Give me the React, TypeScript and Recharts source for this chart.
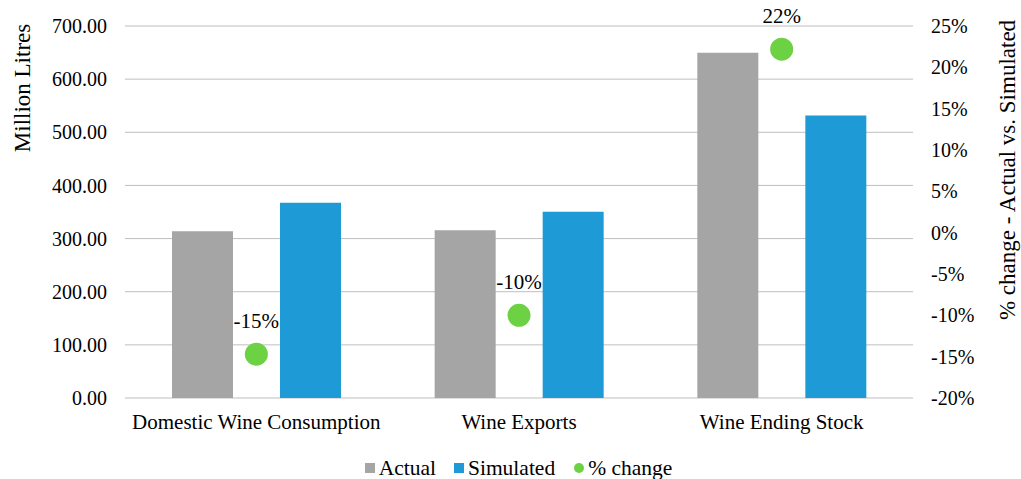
import React from "react";
import {
  ComposedChart,
  Bar,
  Scatter,
  XAxis,
  YAxis,
  CartesianGrid,
  Legend,
  Label,
} from "recharts";

const categories = ["Domestic Wine Consumption", "Wine Exports", "Wine Ending Stock"];
const actual = [313.6, 315.5, 649.6];
const simulated = [367.5, 350.6, 531.5];
const pctChange = [-0.147, -0.1, 0.222];

const leftTicks = [0, 100, 200, 300, 400, 500, 600, 700];
const rightTicks = [-0.2, -0.15, -0.1, -0.05, 0, 0.05, 0.1, 0.15, 0.2, 0.25];

const data = categories.map((name, i) => ({
  name,
  actual: actual[i],
  simulated: simulated[i],
  pct: pctChange[i],
}));

const FONT = '"Liberation Serif", "Times New Roman", serif';
const GRAY = "#A5A5A5";
const BLUE = "#1E9BD7";
const GREEN = "#6DD243";

const pctFmt = (v: number) => `${Math.round(v * 100)}%`;

const LeftTitle = (props: any) => {
  const vb = props.viewBox;
  const cx = vb.x + 22;
  const cy = vb.y + 62;
  return (
    <text x={cx} y={cy} transform={`rotate(-90, ${cx}, ${cy})`} textAnchor="middle"
      dominantBaseline="central" fontFamily={FONT} fontSize={23} fill="#000">
      Million Litres
    </text>
  );
};

const RightTitle = (props: any) => {
  const vb = props.viewBox;
  const cx = vb.x + 94;
  const cy = vb.y + 144;
  return (
    <text x={cx} y={cy} transform={`rotate(-90, ${cx}, ${cy})`} textAnchor="middle"
      dominantBaseline="central" fontFamily={FONT} fontSize={23} fill="#000">
      % change - Actual vs. Simulated
    </text>
  );
};

// green dot with its percentage written above it
const PctDot = (props: any) => {
  const { cx, cy, payload } = props;
  return (
    <g>
      <circle cx={cx} cy={cy} r={11.5} fill={GREEN} />
      <text x={cx} y={cy - 26} textAnchor="middle" fontFamily={FONT} fontSize={21} fill="#000">
        {pctFmt(payload.pct)}
      </text>
    </g>
  );
};

const LegendBox = () => {
  const item = (label: string, color: string, round: boolean, gap: number) => (
    <div style={{ display: "flex", alignItems: "center", marginRight: gap }}>
      <span style={{
        display: "inline-block", width: 10, height: 10, background: color,
        borderRadius: round ? "50%" : 0, marginRight: 4,
      }} />
      <span>{label}</span>
    </div>
  );
  return (
    <div style={{
      height: 36, paddingTop: 13, paddingLeft: 16, boxSizing: "border-box", display: "flex",
      justifyContent: "center", fontFamily: FONT, fontSize: 21.5, color: "#000", lineHeight: "20px",
    }}>
      {item("Actual", GRAY, false, 18)}
      {item("Simulated", BLUE, false, 19)}
      {item("% change", GREEN, true, 0)}
    </div>
  );
};

export default function App() {
  return (
    <div style={{ position: "absolute", left: 0, top: 0 }}>
      <ComposedChart width={1021} height={479} data={data}
        margin={{ top: 26, right: 0, bottom: 0, left: 0 }}
        barSize={61} barGap={47}>
        <CartesianGrid yAxisId="left" vertical={false} stroke="#BFBFBF" strokeWidth={1} />
        <XAxis dataKey="name" height={45} axisLine={false} tickLine={false} tickMargin={10}
          tick={{ fontFamily: FONT, fontSize: 21, fill: "#000" }} interval={0} />
        <YAxis yAxisId="left" orientation="left" width={125} domain={[0, 700]} ticks={leftTicks}
          axisLine={false} tickLine={false} tickMargin={12}
          tickFormatter={(v: number) => v.toFixed(2)}
          tick={{ fontFamily: FONT, fontSize: 20, fill: "#000" }}>
          <Label content={LeftTitle} />
        </YAxis>
        <YAxis yAxisId="right" orientation="right" width={108} domain={[-0.2, 0.25]} ticks={rightTicks}
          axisLine={false} tickLine={false} tickMargin={12} tickFormatter={pctFmt}
          tick={{ fontFamily: FONT, fontSize: 20, fill: "#000", textAnchor: "start" }}>
          <Label content={RightTitle} />
        </YAxis>
        <Bar yAxisId="left" dataKey="actual" name="Actual" fill={GRAY} isAnimationActive={false} />
        <Bar yAxisId="left" dataKey="simulated" name="Simulated" fill={BLUE} isAnimationActive={false} />
        <Scatter yAxisId="right" dataKey="pct" name="% change" fill={GREEN} shape={PctDot}
          isAnimationActive={false} />
        <Legend verticalAlign="bottom" content={LegendBox} />
      </ComposedChart>
    </div>
  );
}
